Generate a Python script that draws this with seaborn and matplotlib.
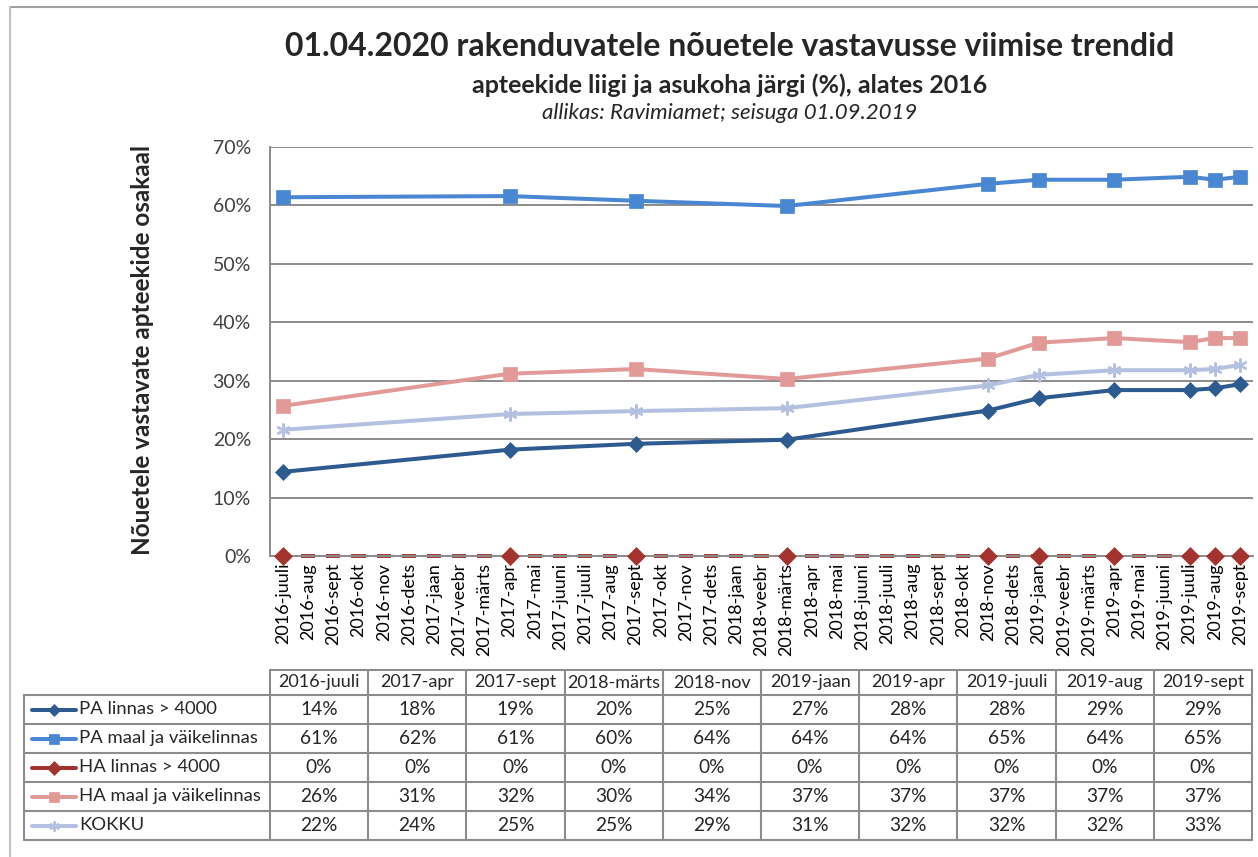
import matplotlib
matplotlib.use("Agg")
import matplotlib.pyplot as plt
import seaborn as sns
import numpy as np
import pandas as pd
from matplotlib.lines import Line2D

# all monthly categories on the x axis
months = [
    "2016-juuli", "2016-aug", "2016-sept", "2016-okt", "2016-nov", "2016-dets",
    "2017-jaan", "2017-veebr", "2017-märts", "2017-apr", "2017-mai", "2017-juuni",
    "2017-juuli", "2017-aug", "2017-sept", "2017-okt", "2017-nov", "2017-dets",
    "2018-jaan", "2018-veebr", "2018-märts", "2018-apr", "2018-mai", "2018-juuni",
    "2018-juuli", "2018-aug", "2018-sept", "2018-okt", "2018-nov", "2018-dets",
    "2019-jaan", "2019-veebr", "2019-märts", "2019-apr", "2019-mai", "2019-juuni",
    "2019-juuli", "2019-aug", "2019-sept",
]

# months with measurements
survey = ["2016-juuli", "2017-apr", "2017-sept", "2018-märts", "2018-nov",
          "2019-jaan", "2019-apr", "2019-juuli", "2019-aug", "2019-sept"]

# plotted values (%)
pa_linnas = [14.4, 18.2, 19.2, 19.9, 24.9, 27.0, 28.4, 28.4, 28.7, 29.4]
pa_maal = [61.4, 61.6, 60.8, 59.9, 63.7, 64.4, 64.4, 64.9, 64.4, 64.9]
ha_linnas = [0, 0, 0, 0, 0, 0, 0, 0, 0, 0]
ha_maal = [25.7, 31.2, 32.0, 30.3, 33.8, 36.5, 37.3, 36.6, 37.3, 37.3]
kokku = [21.6, 24.3, 24.8, 25.3, 29.2, 31.0, 31.8, 31.8, 32.0, 32.7]

# values printed in the data table (%)
tbl_pa_linnas = [14, 18, 19, 20, 25, 27, 28, 28, 29, 29]
tbl_pa_maal = [61, 62, 61, 60, 64, 64, 64, 65, 64, 65]
tbl_ha_linnas = [0, 0, 0, 0, 0, 0, 0, 0, 0, 0]
tbl_ha_maal = [26, 31, 32, 30, 34, 37, 37, 37, 37, 37]
tbl_kokku = [22, 24, 25, 25, 29, 31, 32, 32, 32, 33]

names = ["PA linnas > 4000", "PA maal ja väikelinnas", "HA linnas > 4000",
         "HA maal ja väikelinnas", "KOKKU"]
values = [pa_linnas, pa_maal, ha_linnas, ha_maal, kokku]
tbl_values = [tbl_pa_linnas, tbl_pa_maal, tbl_ha_linnas, tbl_ha_maal, tbl_kokku]

colors = ["#2D5B8F", "#4A87D2", "#A2332E", "#E29A99", "#B4C0DF"]
markers = ["D", "s", "D", "s", (6, 2, 0)]
msizes = [8, 10, 9.5, 10, 10]

sns.set_style("white")
plt.rcParams["font.family"] = ["Lato", "DejaVu Sans"]

W, H = 1258, 857
fig = plt.figure(figsize=(W / 100, H / 100), dpi=100)

def fx(px):
    return px / W

def fy(py):
    return 1 - py / H

ax = fig.add_axes([fx(270.4), fy(556), fx(982.2), 409 / H])

pos = [months.index(m) for m in survey]
grid_col = "#8C8C8C"

for i, (name, vals) in enumerate(zip(names, values)):
    df = pd.DataFrame({"pos": pos, "value": vals})
    if name == "HA linnas > 4000":
        # short segments lying on the axis at every category
        idx = np.arange(len(months))
        ax.hlines(np.zeros(len(months)), idx - 0.28, idx + 0.28, color=colors[i],
                  linewidth=2.8, zorder=2.5, clip_on=False)
        sns.lineplot(data=df, x="pos", y="value", ax=ax, color=colors[i],
                     marker=markers[i], markersize=msizes[i], linestyle="none",
                     markeredgecolor=colors[i], markeredgewidth=0.5)
        ax.lines[-1].set_clip_on(False)
        ax.lines[-1].set_zorder(5)
    else:
        mew = 1.6 if name == "KOKKU" else 0.5
        sns.lineplot(data=df, x="pos", y="value", ax=ax, color=colors[i],
                     marker=markers[i], markersize=msizes[i], linewidth=2.9,
                     markeredgecolor=colors[i], markeredgewidth=mew)
        ax.lines[-1].set_zorder(3 + i * 0.1)

ax.set_xlim(-0.5, len(months) - 0.5)
ax.set_ylim(0, 70)
ax.set_yticks(np.arange(0, 71, 10))
ax.set_yticklabels([f"{v}%" for v in range(0, 71, 10)])
ax.set_xticks(np.arange(len(months)))
ax.set_xticklabels(months, rotation=90)
ax.set_xticks(np.arange(len(months) + 1) - 0.5, minor=True)
ax.tick_params(axis="x", which="major", length=0, pad=5, labelsize=13, labelcolor="black")
ax.tick_params(axis="x", which="minor", length=4, direction="in", color=grid_col, width=1, top=False)
ax.tick_params(axis="y", length=0, pad=14, labelsize=14, labelcolor="#404040")
ax.yaxis.grid(True, color=grid_col, linewidth=1.4)
ax.set_axisbelow(True)
for s in ["top", "right"]:
    ax.spines[s].set_visible(False)
for s in ["left", "bottom"]:
    ax.spines[s].set_color(grid_col)
    ax.spines[s].set_linewidth(1.4)
ax.set_xlabel("")
ax.set_ylabel("")
if ax.get_legend():
    ax.get_legend().remove()

fig.text(fx(143), fy(350), "Nõuetele vastavate apteekide osakaal", rotation=90,
         ha="center", va="center", fontsize=17.5, fontweight="bold")

# titles
fig.text(fx(730), fy(47), "01.04.2020 rakenduvatele nõuetele vastavusse viimise trendid",
         ha="center", va="center", fontsize=23, fontweight="bold")
fig.text(fx(730), fy(85), "apteekide liigi ja asukoha järgi (%), alates 2016",
         ha="center", va="center", fontsize=18, fontweight="bold")
fig.text(fx(730), fy(113), "allikas: Ravimiamet; seisuga 01.09.2019",
         ha="center", va="center", fontsize=16, fontstyle="italic")

# outer frame
fig.add_artist(Line2D([fx(10), 1], [fy(7), fy(7)], color="#A0A0A0", linewidth=1.5))
fig.add_artist(Line2D([fx(10), fx(10)], [fy(7), 0], color="#C0C0C0", linewidth=1.5))

# data table
tax = fig.add_axes([fx(24), fy(840), fx(1228), 170 / H])
tax.set_xlim(24, 1252)
tax.set_ylim(840, 670)
tax.axis("off")

col_edges = np.linspace(270, 1252, len(survey) + 1)
row_edges = 695 + 29 * np.arange(len(names) + 1)
tcol = "#8C8C8C"

tax.plot([270, 1252], [670, 670], color=tcol, linewidth=1.5, clip_on=False)
for y in row_edges:
    tax.plot([24, 1252], [y, y], color=tcol, linewidth=1.5, clip_on=False)
tax.plot([24, 24], [row_edges[0], row_edges[-1]], color=tcol, linewidth=1.5, clip_on=False)
for x in col_edges:
    tax.plot([x, x], [670, row_edges[-1]], color=tcol, linewidth=1.5, clip_on=False)

centers = (col_edges[:-1] + col_edges[1:]) / 2
for c, lab in zip(centers, survey):
    tax.text(c, 682.5, lab, ha="center", va="center", fontsize=13)

for r, (name, tv) in enumerate(zip(names, tbl_values)):
    yc = (row_edges[r] + row_edges[r + 1]) / 2
    mew = 1.4 if name == "KOKKU" else 0.5
    tax.plot([32, 76], [yc, yc], color=colors[r], linewidth=2.9, clip_on=False)
    tax.plot([54], [yc], color=colors[r], marker=markers[r], markersize=msizes[r] * 0.75,
             markeredgecolor=colors[r], markeredgewidth=mew, clip_on=False)
    tax.text(79, yc, name, ha="left", va="center", fontsize=13.3)
    for c, v in zip(centers, tv):
        tax.text(c, yc, f"{v}%", ha="center", va="center", fontsize=13.8)

fig.savefig("out.png", dpi=100)
